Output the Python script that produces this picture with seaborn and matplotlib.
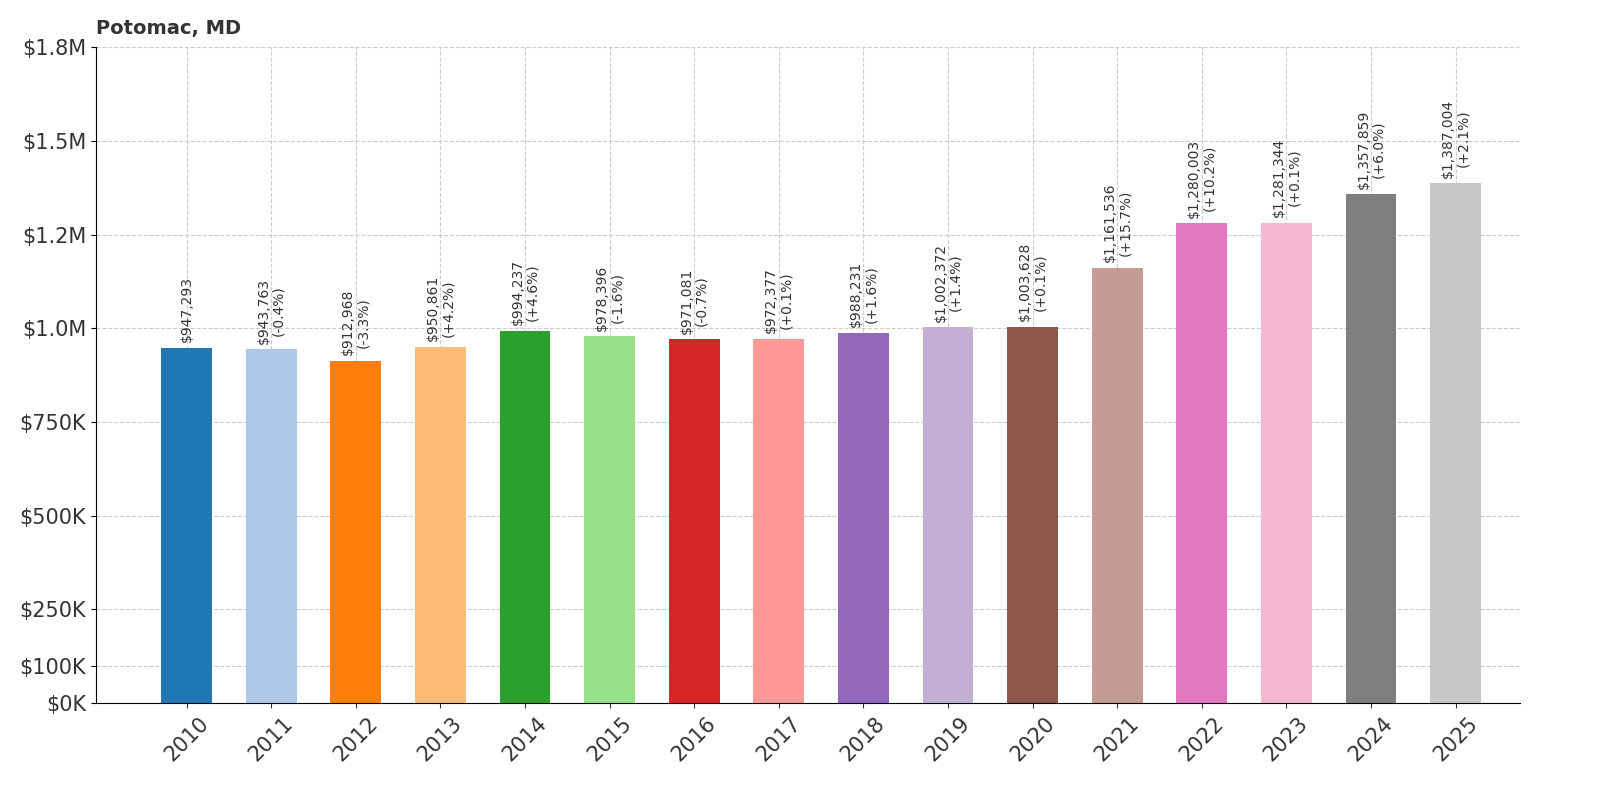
import matplotlib
matplotlib.use("Agg")
import matplotlib.pyplot as plt
import seaborn as sns
import pandas as pd

years = ["2010","2011","2012","2013","2014","2015","2016","2017","2018","2019","2020","2021","2022","2023","2024","2025"]
values = [947293,943763,912968,950861,994237,978396,971081,972377,988231,1002372,1003628,1161536,1280003,1281344,1357859,1387004]
changes = [None,"-0.4%","-3.3%","+4.2%","+4.6%","-1.6%","-0.7%","+0.1%","+1.6%","+1.4%","+0.1%","+15.7%","+10.2%","+0.1%","+6.0%","+2.1%"]
tick_vals = [0,100000,250000,500000,750000,1000000,1250000,1500000,1750000]
tick_labels = ["$0K","$100K","$250K","$500K","$750K","$1.0M","$1.2M","$1.5M","$1.8M"]

df = pd.DataFrame({"year": years, "value": values})
fig = plt.figure(figsize=(16, 8), dpi=100)
ax = fig.add_axes([0.06, 0.121, 0.89, 0.820])
palette = sns.color_palette("tab20", 16)
sns.barplot(data=df, x="year", y="value", hue="year", palette=palette, legend=False,
            width=0.6, saturation=1, ax=ax, zorder=2)
ax.set_xlim(-1.07, 15.76)
ax.set_ylim(0, 1750000)
ax.set_yticks(tick_vals)
ax.set_yticklabels(tick_labels, fontsize=15, color="#333333")
ax.tick_params(axis="x", labelrotation=45, labelsize=15, colors="#333333")
ax.set_xlabel("")
ax.set_ylabel("")
ax.grid(True, linestyle="--", color="#cccccc", linewidth=0.8, zorder=0)
ax.set_axisbelow(True)
for s in ["top", "right"]:
    ax.spines[s].set_visible(False)
for i, (v, c) in enumerate(zip(values, changes)):
    txt = f"${v:,}" if c is None else f"${v:,}\n({c})"
    ax.text(i, v + 15000, txt, rotation=90, ha="center", va="bottom", fontsize=10, color="#333333", linespacing=1.1)
fig.text(0.06, 0.952, "Potomac, MD", fontsize=14, fontweight="bold", color="#333333", ha="left", va="bottom")
fig.savefig("out.png", dpi=100)
